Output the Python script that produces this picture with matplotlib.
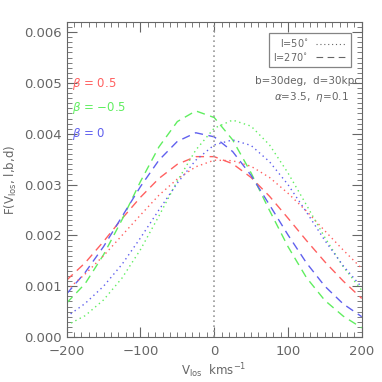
import numpy as np
import matplotlib
matplotlib.use('Agg')
import matplotlib.pyplot as plt
from matplotlib.ticker import MultipleLocator
from matplotlib.lines import Line2D

v_los = [-200, -175, -150, -125, -100, -75, -50, -25, 0, 25, 50, 75, 100, 125, 150, 175, 200]

# l = 270 (dashed)
f270_b05 = [0.00112, 0.00146, 0.00188, 0.00233, 0.00275, 0.00312, 0.00340, 0.00355, 0.00355,
            0.00341, 0.00314, 0.00277, 0.00234, 0.00190, 0.00148, 0.00110, 0.00076]
f270_bm05 = [0.00067, 0.00105, 0.00162, 0.00231, 0.00306, 0.00374, 0.00424, 0.00445, 0.00432,
             0.00388, 0.00323, 0.00249, 0.00178, 0.00117, 0.00072, 0.00041, 0.00018]
f270_b0 = [0.00085, 0.00127, 0.00178, 0.00237, 0.00296, 0.00348, 0.00385, 0.00402, 0.00394,
           0.00365, 0.00318, 0.00260, 0.00201, 0.00146, 0.00100, 0.00065, 0.00040]

# l = 50 (dotted)
f50_b05 = [0.00092, 0.00124, 0.00160, 0.00200, 0.00240, 0.00279, 0.00311, 0.00335, 0.00348,
           0.00347, 0.00336, 0.00314, 0.00283, 0.00248, 0.00209, 0.00171, 0.00135]
f50_bm05 = [0.00023, 0.00042, 0.00073, 0.00116, 0.00172, 0.00238, 0.00307, 0.00368, 0.00411,
            0.00427, 0.00415, 0.00378, 0.00323, 0.00260, 0.00196, 0.00138, 0.00092]
f50_b0 = [0.00040, 0.00066, 0.00100, 0.00143, 0.00195, 0.00250, 0.00303, 0.00348, 0.00378,
          0.00388, 0.00377, 0.00345, 0.00300, 0.00246, 0.00190, 0.00140, 0.00098]

rojo = '#ff6060'
verde = '#60ee60'
azul = '#6060ee'
gris = '#666666'

plt.rcParams['font.family'] = ['DejaVu Sans']

fig = plt.figure(figsize=(3.82, 3.82), dpi=100)
ax = fig.add_axes([0.1746, 0.1178, 0.7723, 0.8246])

guion = (0, (6, 4))
punto = (0, (1, 2.5))
ax.plot(v_los, f270_b05, color=rojo, ls=guion, lw=1)
ax.plot(v_los, f270_bm05, color=verde, ls=guion, lw=1)
ax.plot(v_los, f270_b0, color=azul, ls=guion, lw=1)
ax.plot(v_los, f50_b05, color=rojo, ls=punto, lw=1)
ax.plot(v_los, f50_bm05, color=verde, ls=punto, lw=1)
ax.plot(v_los, f50_b0, color=azul, ls=punto, lw=1)

ax.axvline(0, color='#999999', ls=(0, (1, 2)), lw=1.2)

ax.set_xlim(-200, 200)
ax.set_ylim(0, 0.0062)
ax.xaxis.set_major_locator(MultipleLocator(100))
ax.xaxis.set_minor_locator(MultipleLocator(10))
ax.yaxis.set_major_locator(MultipleLocator(0.001))
ax.yaxis.set_minor_locator(MultipleLocator(0.0001))
ax.yaxis.set_major_formatter(plt.FuncFormatter(lambda y, p: '%.3f' % y))
ax.xaxis.set_major_formatter(plt.FuncFormatter(lambda x, p: ('\u2212%d' % -x) if x < 0 else '%d' % x))
ax.tick_params(which='both', direction='in', top=True, right=True, colors=gris, labelsize=9.5)
ax.tick_params(which='major', length=7, width=0.8)
ax.tick_params(which='minor', length=3.5, width=0.6)
ax.tick_params(axis='x', pad=6)
for s in ax.spines.values():
    s.set_color(gris)
    s.set_linewidth(0.8)

ax.set_xlabel(r'V$_{\rm los}$  kms$^{-1}$', color=gris, fontsize=8.5, labelpad=2)
ax.set_ylabel(r'F(V$_{\rm los}$, l,b,d)', color=gris, fontsize=8.5, labelpad=4)

ax.text(-193, 0.00498, r'$\beta$ = 0.5', color=rojo, fontsize=8.5, va='center')
ax.text(-193, 0.00451, r'$\beta$ = $-$0.5', color=verde, fontsize=8.5, va='center')
ax.text(-193, 0.00400, r'$\beta$ = 0', color=azul, fontsize=8.5, va='center')

lineas = [Line2D([0], [0], color=gris, ls=punto, lw=0.8),
          Line2D([0], [0], color=gris, ls=guion, lw=0.8)]
leg = ax.legend(lineas, [r'l=50$^{\circ}$', r'l=270$^{\circ}$'], loc='upper right',
                bbox_to_anchor=(0.965, 0.965), fontsize=7, frameon=True, fancybox=False,
                handlelength=3.2, markerfirst=False, borderpad=0.45, labelspacing=0.15,
                handletextpad=0.8, borderaxespad=0)
leg.get_frame().set_edgecolor(gris)
leg.get_frame().set_linewidth(0.9)
for t in leg.get_texts():
    t.set_color(gris)

ax.text(197, 0.00504, 'b=30deg,  d=30kpc', color=gris, fontsize=7.5, ha='right', va='center')
ax.text(182, 0.00472, r'$\alpha$=3.5,  $\eta$=0.1', color=gris, fontsize=7.5, ha='right', va='center')

fig.savefig('out.png', dpi=100)
